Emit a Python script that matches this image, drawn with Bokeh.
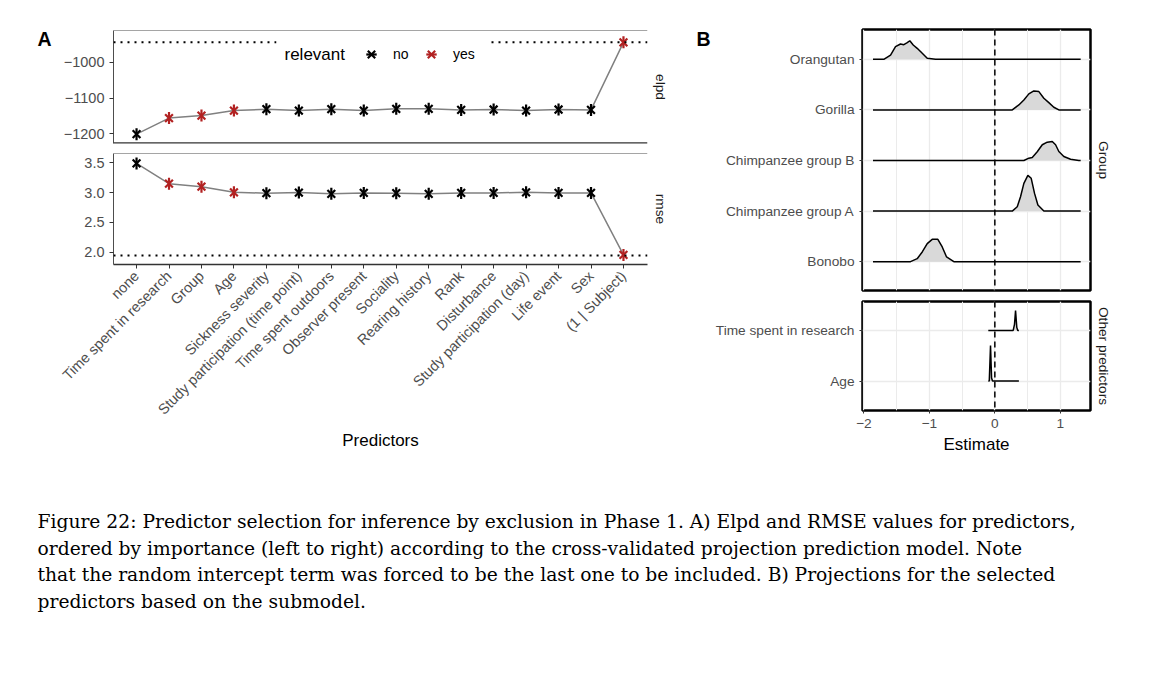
import math
from bokeh.plotting import figure
from bokeh.layouts import column, row
from bokeh.models import (Range1d, FixedTicker, Span, Label, BoxAnnotation, Legend,
                          LegendItem, ColumnDataSource, Title)
from bokeh.core.properties import value
from bokeh.embed import file_html
from bokeh.resources import INLINE

# ---------------- data ----------------
PREDICTORS = ["none", "Time spent in research", "Group", "Age", "Sickness severity",
              "Study participation (time point)", "Time spent outdoors", "Observer present",
              "Sociality", "Rearing history", "Rank", "Disturbance",
              "Study participation (day)", "Life event", "Sex", "(1 | Subject)"]
RELEVANT = ["no", "yes", "yes", "yes", "no", "no", "no", "no",
            "no", "no", "no", "no", "no", "no", "no", "yes"]
ELPD = [-1201, -1156, -1149, -1135, -1131, -1135, -1131, -1135,
        -1130, -1130, -1133, -1132, -1135, -1132, -1133, -944]
RMSE = [3.49, 3.15, 3.10, 3.005, 2.99, 3.0, 2.98, 2.995,
        2.99, 2.98, 2.995, 2.995, 3.005, 2.995, 2.995, 1.955]
ELPD_REF = -944
RMSE_REF = 1.945
ELPD_TICKS = [-1200, -1100, -1000]
RMSE_TICKS = [2.0, 2.5, 3.0, 3.5]

GROUPS = ["Bonobo", "Chimpanzee group A", "Chimpanzee group B", "Gorilla", "Orangutan"]
GROUP_RANGE = (-1.86, 1.31)
BONOBO_X = [-1.287, -1.185, -1.108, -1.032, -0.956, -0.87, -0.803, -0.737, -0.626]
BONOBO_D = [0, 0.059, 0.192, 0.356, 0.442, 0.442, 0.291, 0.093, 0]
CHIMP_A_X = [0.266, 0.342, 0.392, 0.443, 0.504, 0.555, 0.606, 0.657, 0.748]
CHIMP_A_D = [0, 0.085, 0.283, 0.549, 0.707, 0.648, 0.350, 0.119, 0]
CHIMP_B_X = [0.443, 0.519, 0.571, 0.647, 0.724, 0.80, 0.876, 0.927, 0.977, 1.053, 1.156, 1.282]
CHIMP_B_D = [0, 0.046, 0.059, 0.172, 0.311, 0.362, 0.376, 0.311, 0.178, 0.079, 0.026, 0]
GORILLA_X = [0.266, 0.366, 0.443, 0.519, 0.595, 0.672, 0.748, 0.824, 0.90, 0.977]
GORILLA_D = [0, 0.099, 0.198, 0.317, 0.376, 0.362, 0.232, 0.145, 0.053, 0]
ORANGUTAN_X = [-1.695, -1.592, -1.516, -1.44, -1.389, -1.337, -1.298, -1.246, -1.185,
               -1.108, -1.032, -0.905]
ORANGUTAN_D = [0, 0.085, 0.25, 0.303, 0.289, 0.329, 0.368, 0.283, 0.218, 0.119, 0.02, 0]

OTHER = ["Age", "Time spent in research"]
OTHER_RANGE = (-0.10, 0.367)
AGE_X = [-0.085, -0.066, -0.05, -0.035]
AGE_D = [0, 0.704, 0.06, 0]
TIME_X = [0.28, 0.30, 0.316, 0.335, 0.35]
TIME_D = [0, 0.12, 0.39, 0.06, 0]
EST_TICKS = [-2, -1, 0, 1]

CAPTION = [
    "Figure 22: Predictor selection for inference by exclusion in Phase 1. A) Elpd and RMSE values for predictors,",
    "ordered by importance (left to right) according to the cross-validated projection prediction model. Note",
    "that the random intercept term was forced to be the last one to be included. B) Projections for the selected",
    "predictors based on the submodel.",
]

# ---------------- style ----------------
FONT = "Liberation Sans"
GREY30 = "#4D4D4D"
GREY20 = "#333333"
RED = "#B22222"
TICK_FS_A = "14.5px"
TICK_FS_B = "13.7px"
TITLE_FS = "17px"


def make_fig(w, h, xr, yr, bl, br, bt, bb):
    p = figure(width=w, height=h, x_range=xr, y_range=yr, output_backend="svg",
               toolbar_location=None, min_border_left=bl, min_border_right=br,
               min_border_top=bt, min_border_bottom=bb)
    p.outline_line_color = None
    p.background_fill_color = "white"
    p.border_fill_color = "white"
    return p


def style_axis(ax, fs):
    ax.major_label_text_font = FONT
    ax.major_label_text_font_size = fs
    ax.major_label_text_color = GREY30
    ax.major_tick_line_color = GREY20
    ax.major_tick_out = 4
    ax.major_tick_in = 0
    ax.minor_tick_line_color = None
    ax.axis_label_text_font = FONT
    ax.axis_label_text_font_size = TITLE_FS
    ax.axis_label_text_font_style = "normal"
    ax.axis_label_text_color = "black"


def strip_label(p, text, standoff):
    p.add_layout(Title(text=text, align="center", text_font=FONT, text_font_size="13.7px",
                       text_font_style="normal", text_color="#1A1A1A", standoff=standoff), "right")


def stars(p, xs, ys, color):
    src = ColumnDataSource(dict(x=xs, y=ys))
    r1 = p.scatter("x", "y", source=src, marker="x", size=11, line_color=color, line_width=2.2)
    r2 = p.scatter("x", "y", source=src, marker="dash", angle=math.pi / 2, size=12,
                   line_color=color, line_width=2.2)
    return [r1, r2]


def letter_fig(w, letter, x):
    p = figure(width=w, height=460, x_range=Range1d(0, w), y_range=Range1d(460, 0),
               output_backend="svg", toolbar_location=None, min_border=0)
    p.axis.visible = False
    p.grid.visible = False
    p.outline_line_color = None
    p.text(x=[x], y=[27], text=[letter], text_font=value(FONT), text_font_size="19.5px",
           text_font_style="bold", text_color="black", text_baseline="top", text_align="left")
    return p


IDX = list(range(len(PREDICTORS)))
NO_IDX = [i for i in IDX if RELEVANT[i] == "no"]
YES_IDX = [i for i in IDX if RELEVANT[i] == "yes"]
XR = (-0.71, 15.74)

# ---------------- panel A: elpd ----------------
pe = make_fig(630, 148, Range1d(*XR), Range1d(-1227, -911), 52, 43, 30, 5)
pe.xaxis.visible = False
pe.grid.visible = False
style_axis(pe.yaxis[0], TICK_FS_A)
pe.yaxis.ticker = FixedTicker(ticks=ELPD_TICKS)
pe.yaxis.major_label_overrides = {t: "\u2212" + str(abs(t)) for t in ELPD_TICKS}
pe.yaxis.axis_line_color = GREY30
pe.add_layout(Span(location=-911, dimension="width", line_color=GREY30, line_width=1))
pe.add_layout(Span(location=-1227, dimension="width", line_color=GREY20, line_width=2.5))
pe.add_layout(Span(location=ELPD_REF, dimension="width", line_color="black",
                   line_width=2, line_dash="2 5"))
pe.line(IDX, ELPD, line_color="#808080", line_width=1.5)
e_no = stars(pe, NO_IDX, [ELPD[i] for i in NO_IDX], "black")
e_yes = stars(pe, YES_IDX, [ELPD[i] for i in YES_IDX], RED)
# legend
pe.add_layout(BoxAnnotation(left=163, right=375, top=110, bottom=70, left_units="screen",
                            right_units="screen", top_units="screen", bottom_units="screen",
                            fill_color="white", fill_alpha=1, line_color=None))
pe.add_layout(Label(x=171, y=89, x_units="screen", y_units="screen", text="relevant",
                    text_font=FONT, text_font_size="17px", text_color="black",
                    text_baseline="middle", text_align="left"))
leg = Legend(items=[LegendItem(label="no", renderers=e_no), LegendItem(label="yes", renderers=e_yes)],
             orientation="horizontal", location=(245, 76), glyph_width=26, glyph_height=26,
             label_standoff=9, spacing=9, padding=0, margin=0, label_width=16,
             border_line_color=None, background_fill_alpha=0,
             label_text_font=FONT, label_text_font_size="14px", label_text_color="black")
pe.add_layout(leg, "center")
strip_label(pe, "elpd", 11)

# ---------------- panel A: rmse ----------------
pr = make_fig(630, 312, Range1d(*XR), Range1d(1.794, 3.656), 52, 43, 5, 196)
pr.grid.visible = False
style_axis(pr.yaxis[0], TICK_FS_A)
style_axis(pr.xaxis[0], TICK_FS_A)
pr.yaxis.ticker = FixedTicker(ticks=RMSE_TICKS)
pr.yaxis.major_label_overrides = {t: f"{t:.1f}" for t in RMSE_TICKS}
pr.yaxis.axis_line_color = GREY30
pr.xaxis.ticker = FixedTicker(ticks=IDX)
pr.xaxis.major_label_overrides = {i: PREDICTORS[i] for i in IDX}
pr.xaxis.major_label_orientation = math.pi / 4
pr.xaxis.axis_line_color = GREY20
pr.xaxis.axis_line_width = 1.3
pr.xaxis.axis_label = "Predictors"
pr.xaxis.axis_label_standoff = 5
pr.add_layout(Span(location=3.656, dimension="width", line_color=GREY30, line_width=1))
pr.add_layout(Span(location=RMSE_REF, dimension="width", line_color="black",
                   line_width=2, line_dash="2 5"))
pr.line(IDX, RMSE, line_color="#808080", line_width=1.5)
stars(pr, NO_IDX, [RMSE[i] for i in NO_IDX], "black")
stars(pr, YES_IDX, [RMSE[i] for i in YES_IDX], RED)
strip_label(pr, "rmse", 11)

# ---------------- panel B ----------------
GRID_COL = "#EBEBEB"


def style_b(p, ycats):
    p.outline_line_color = "black"
    p.outline_line_width = 2.5
    style_axis(p.yaxis[0], TICK_FS_B)
    p.yaxis.axis_line_color = None
    p.yaxis.major_tick_out = 3
    p.yaxis.ticker = FixedTicker(ticks=list(range(1, len(ycats) + 1)))
    p.yaxis.major_label_overrides = {i + 1: c for i, c in enumerate(ycats)}
    p.xgrid[0].ticker = FixedTicker(ticks=EST_TICKS, minor_ticks=[-1.5, -0.5, 0.5])
    p.xgrid.grid_line_color = GRID_COL
    p.xgrid.grid_line_width = 1.3
    p.xgrid.minor_grid_line_color = GRID_COL
    p.xgrid.minor_grid_line_width = 1.0
    p.ygrid[0].ticker = FixedTicker(ticks=list(range(1, len(ycats) + 1)))
    p.ygrid.grid_line_color = GRID_COL
    p.ygrid.grid_line_width = 1.3


def ridge(p, base, xs, ds, lo, hi):
    x = [lo] + xs + [hi]
    d = [0] + ds + [0]
    y = [base + v for v in d]
    p.varea(x=x, y1=[base] * len(x), y2=y, fill_color="#D9D9D9")
    p.line(x=x, y=y, line_color="black", line_width=1.5)


WB = 462
BL_B = 150
BR_B = WB - BL_B - 228
pg = make_fig(WB, 296, Range1d(-2.02, 1.46), Range1d(0.43, 5.59), BL_B, BR_B, 29, 6)
pg.xaxis.visible = False
style_b(pg, GROUPS)
ridge(pg, 5, ORANGUTAN_X, ORANGUTAN_D, *GROUP_RANGE)
ridge(pg, 4, GORILLA_X, GORILLA_D, *GROUP_RANGE)
ridge(pg, 3, CHIMP_B_X, CHIMP_B_D, *GROUP_RANGE)
ridge(pg, 2, CHIMP_A_X, CHIMP_A_D, *GROUP_RANGE)
ridge(pg, 1, BONOBO_X, BONOBO_D, *GROUP_RANGE)
pg.add_layout(Span(location=0, dimension="height", line_color="black", line_width=1.5,
                   line_dash="6 4"))
strip_label(pg, "Group", 11)

po = make_fig(WB, 164, Range1d(-2.02, 1.46), Range1d(0.42, 2.57), BL_B, BR_B, 5, 50)
style_b(po, OTHER)
style_axis(po.xaxis[0], TICK_FS_B)
po.xaxis.axis_line_color = None
po.xaxis.major_tick_out = 3
po.xaxis.ticker = FixedTicker(ticks=EST_TICKS)
po.xaxis.major_label_overrides = {t: ("\u2212" + str(abs(t)) if t < 0 else str(t)) for t in EST_TICKS}
po.xaxis.axis_label = "Estimate"
po.xaxis.axis_label_standoff = 4
ridge(po, 2, TIME_X, TIME_D, *OTHER_RANGE)
ridge(po, 1, AGE_X, AGE_D, *OTHER_RANGE)
po.add_layout(Span(location=0, dimension="height", line_color="black", line_width=1.5,
                   line_dash="6 4"))
strip_label(po, "Other predictors", 11)

# ---------------- caption ----------------
pc = figure(width=1174, height=222, x_range=Range1d(0, 1174), y_range=Range1d(222, 0),
            output_backend="svg", toolbar_location=None, min_border=0)
pc.axis.visible = False
pc.grid.visible = False
pc.outline_line_color = None
cap_src = ColumnDataSource(dict(x=[37] * len(CAPTION),
                                y=[61 + 26.6 * i for i in range(len(CAPTION))],
                                text=CAPTION))
pc.text(x="x", y="y", text="text", source=cap_src, text_font=value("DejaVu Serif"),
        text_font_size="18.7px", text_color="black", text_baseline="middle", text_align="left")

la = letter_fig(60, "A", 37)
lb = letter_fig(1174 - 690 - WB, "B", 6)
layout = column(row(la, column(pe, pr), lb, column(pg, po)), pc)
open("out.html", "w").write(file_html(layout, INLINE))
